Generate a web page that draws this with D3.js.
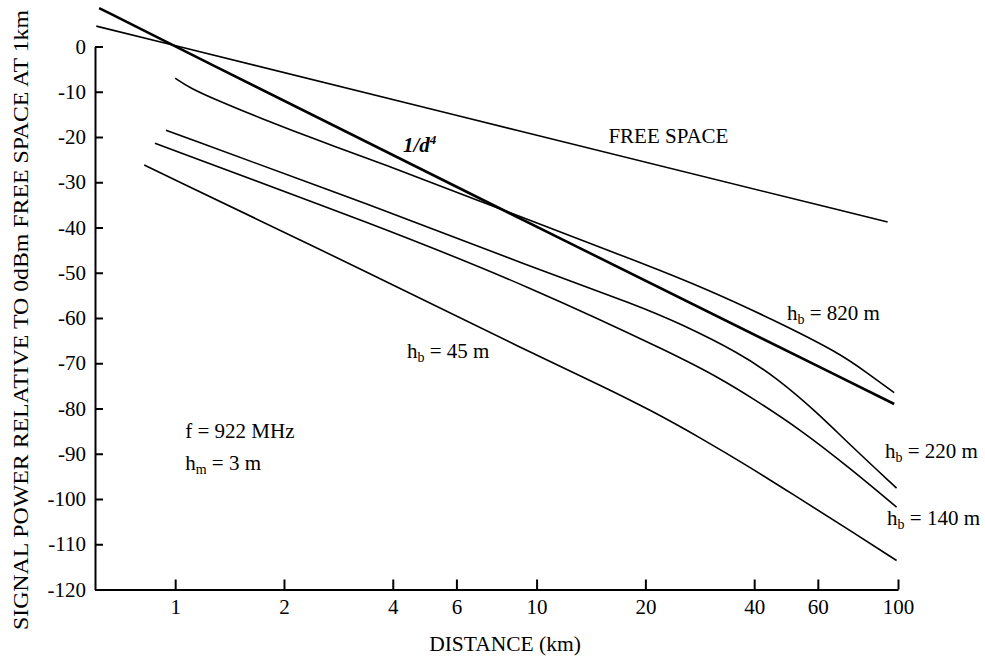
<!DOCTYPE html>
<html>
<head>
<meta charset="utf-8">
<script src="https://cdn.jsdelivr.net/npm/d3@7"></script>
<style>
  body { margin: 0; background: #fff; }
  svg text { font-family: "Liberation Serif", "Times New Roman", serif; fill: #000; }
  .axis path, .axis line { stroke: #000; stroke-width: 2px; }
  .curve { fill: none; stroke: #000; stroke-width: 1.6px; }
  .curve.d4 { stroke-width: 2.6px; }
</style>
</head>
<body>
<svg id="chart" width="985" height="657"></svg>
<script>
// values (distance in km, power in dB)
const distTicks = [1, 2, 4, 6, 10, 20, 40, 60, 100];
const powerTicks = [0, -10, -20, -30, -40, -50, -60, -70, -80, -90, -100, -110, -120];

const freeDist = [0.605, 10, 93.6];
const freePower = [4.5, -19.6, -38.8];

const d4Dist = [0.616, 1, 7.2, 97.6];
const d4Power = [8.5, 0, -34.2, -79.0];

const hb820Dist = [1.0, 1.10, 1.30, 1.68, 2.57, 3.69, 6.98, 13.2, 19.3, 29.6, 45.2, 69.1, 82.3, 97.6];
const hb820Power = [-7.0, -9.2, -11.8, -15.5, -21.2, -25.7, -34.2, -42.7, -47.7, -53.6, -60.4, -67.8, -72.2, -76.5];

const hb220Dist = [0.943, 3.69, 9.59, 19.3, 24.9, 36.6, 46.2, 59.6, 73.6, 99.1];
const hb220Power = [-18.5, -35.8, -48.6, -57.4, -61.2, -67.8, -73.3, -80.8, -88.0, -97.6];

const hb140Dist = [0.879, 3.69, 9.59, 24.9, 32.2, 39.0, 53.6, 73.6, 99.1];
const hb140Power = [-21.4, -39.8, -53.1, -68.6, -73.4, -77.4, -84.6, -93.2, -101.8];

const hb45Dist = [0.821, 3.69, 9.59, 14.98, 20.6, 28.3, 39.0, 53.6, 73.6, 99.1];
const hb45Power = [-26.2, -51.2, -67.6, -74.8, -80.3, -86.4, -93.0, -100.0, -106.9, -113.6];

const svg = d3.select("#chart");

const xScale = d3.scaleLog()
  .domain([0.6, 100])
  .range([95, 898]);
const yScale = d3.scaleLinear()
  .domain([-120, 0])
  .range([589.5, 46.5]);

// axes, ticks point inwards
const xAxis = d3.axisBottom(xScale)
  .tickValues(distTicks)
  .tickFormat(d => String(d))
  .tickSizeInner(-10)
  .tickSizeOuter(0)
  .tickPadding(10);
svg.append("g")
  .attr("class", "axis")
  .attr("transform", "translate(0," + yScale(-120) + ")")
  .call(xAxis)
  .selectAll("text")
  .style("font-size", "21px");

const yAxis = d3.axisLeft(yScale)
  .tickValues(powerTicks)
  .tickFormat(d => String(d))
  .tickSizeInner(-8)
  .tickSizeOuter(0)
  .tickPadding(9);
svg.append("g")
  .attr("class", "axis")
  .attr("transform", "translate(" + xScale(0.6) + ",0)")
  .call(yAxis)
  .selectAll("text")
  .style("font-size", "21px");

// curves
const line = d3.line()
  .x(d => xScale(d[0]))
  .y(d => yScale(d[1]))
  .curve(d3.curveBasis);

const series = [
  {name: "free", dist: freeDist, power: freePower, cls: "curve"},
  {name: "d4", dist: d4Dist, power: d4Power, cls: "curve d4"},
  {name: "hb820", dist: hb820Dist, power: hb820Power, cls: "curve"},
  {name: "hb220", dist: hb220Dist, power: hb220Power, cls: "curve"},
  {name: "hb140", dist: hb140Dist, power: hb140Power, cls: "curve"},
  {name: "hb45", dist: hb45Dist, power: hb45Power, cls: "curve"}
];

svg.selectAll("path.curve")
  .data(series)
  .enter()
  .append("path")
  .attr("class", d => d.cls)
  .attr("d", d => line(d.dist.map((v, i) => [v, d.power[i]])));

// annotations: [distance, power] of the text baseline start
function label(pos, parts, extra) {
  let t = svg.append("text")
    .attr("x", xScale(pos[0]))
    .attr("y", yScale(pos[1]))
    .style("font-size", "21px");
  if (extra) extra(t);
  parts.forEach(p => {
    let s = t.append("tspan").text(p.text);
    if (p.sub) s.attr("dy", 4).style("font-size", "14px");
    if (p.sup) s.attr("dy", -8).style("font-size", "13px");
    if (p.back) s.attr("dy", p.back);
  });
  return t;
}

label([15.8, -21.3], [{text: "FREE SPACE"}]);
label([4.27, -23.3], [{text: "1/d"}, {text: "4", sup: true}],
  t => t.style("font-weight", "bold").style("font-style", "italic"));
label([49.3, -60.4], [{text: "h"}, {text: "b", sub: true}, {text: " = 820 m", back: -4}]);
label([92.0, -90.9], [{text: "h"}, {text: "b", sub: true}, {text: " = 220 m", back: -4}]);
label([93.3, -105.7], [{text: "h"}, {text: "b", sub: true}, {text: " = 140 m", back: -4}]);
label([4.38, -68.8], [{text: "h"}, {text: "b", sub: true}, {text: " = 45 m", back: -4}]);
label([1.066, -86.5], [{text: "f = 922 MHz"}]);
label([1.066, -93.6], [{text: "h"}, {text: "m", sub: true}, {text: " = 3 m", back: -4}]);

// axis titles
svg.append("text")
  .attr("x", 505)
  .attr("y", 651)
  .attr("text-anchor", "middle")
  .style("font-size", "21.5px")
  .text("DISTANCE (km)");

svg.append("text")
  .attr("transform", "translate(28,320) rotate(-90)")
  .attr("text-anchor", "middle")
  .attr("textLength", 620)
  .attr("lengthAdjust", "spacingAndGlyphs")
  .style("font-size", "22px")
  .text("SIGNAL POWER RELATIVE TO 0dBm FREE SPACE AT 1km");
</script>
</body>
</html>
